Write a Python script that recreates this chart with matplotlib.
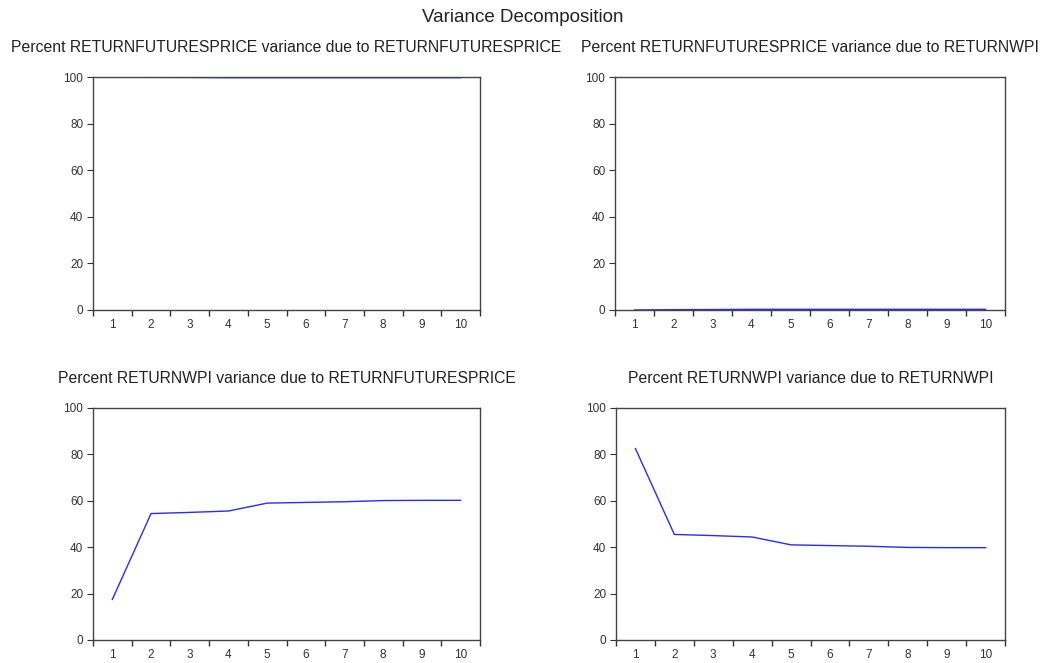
import matplotlib.pyplot as plt
import numpy as np

plt.rcParams['font.family'] = ['Liberation Sans', 'DejaVu Sans']

# forecast horizon
periods = [1, 2, 3, 4, 5, 6, 7, 8, 9, 10]

# percent of variance
fut_due_fut = [100.0, 99.85, 99.8, 99.7, 99.7, 99.7, 99.7, 99.7, 99.7, 99.7]
fut_due_wpi = [0.0, 0.15, 0.2, 0.3, 0.3, 0.3, 0.3, 0.3, 0.3, 0.3]
wpi_due_fut = [17.5, 54.5, 55.0, 55.6, 59.0, 59.3, 59.6, 60.1, 60.2, 60.2]
wpi_due_wpi = [82.5, 45.5, 45.0, 44.4, 41.0, 40.7, 40.4, 39.9, 39.8, 39.8]

titles = ['Percent RETURNFUTURESPRICE variance due to RETURNFUTURESPRICE',
          'Percent RETURNFUTURESPRICE variance due to RETURNWPI',
          'Percent RETURNWPI variance due to RETURNFUTURESPRICE',
          'Percent RETURNWPI variance due to RETURNWPI']
series = [fut_due_fut, fut_due_wpi, wpi_due_fut, wpi_due_wpi]

fig = plt.figure(figsize=(10.46, 6.63), dpi=100)

# axes boxes in pixels: left, right, top, bottom
boxes = [(93, 480, 77, 310), (615, 1005, 77, 310),
         (93, 480, 408, 640), (616, 1005, 408, 640)]

W, H = 1046, 663
for (l, r, t, b), vals, title in zip(boxes, series, titles):
    ax = fig.add_axes([l / W, 1 - b / H, (r - l) / W, (b - t) / H])
    ax.plot(periods, vals, color='#2a2aff', lw=1.0)
    ax.set_xlim(0.5, 10.5)
    ax.set_ylim(0, 100)
    ax.set_yticks([0, 20, 40, 60, 80, 100])
    # ticks between periods, labels at the periods
    ax.set_xticks(np.arange(0.5, 11, 1))
    ax.set_xticklabels([])
    ax.set_xticks(periods, minor=True)
    ax.set_xticklabels([str(p) for p in periods], minor=True)
    ax.tick_params(axis='x', which='minor', length=0, labelsize=8.5,
                   pad=6.5, colors='#333333')
    ax.tick_params(axis='x', which='major', direction='out', length=4,
                   width=1, colors='#333333')
    ax.tick_params(axis='y', direction='out', length=4, width=0.8,
                   labelsize=8.5, colors='#333333', pad=3)
    for s in ax.spines.values():
        s.set_color('#444444')
        s.set_linewidth(1.0)
    ax.set_title(title, fontsize=11.3, pad=18, color='#222222')

fig.text(0.5, 1 - 18 / H, 'Variance Decomposition', ha='center', va='center',
         fontsize=13.5, color='#222222')

plt.savefig('out.png', dpi=100)
